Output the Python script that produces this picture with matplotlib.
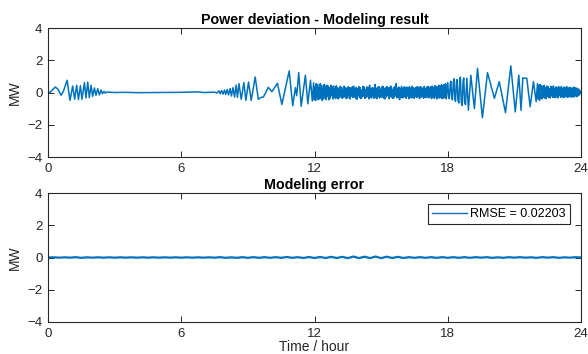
import numpy as np
import matplotlib
matplotlib.use('Agg')
import matplotlib.pyplot as plt

plt.rcParams['font.family'] = ['Liberation Sans', 'DejaVu Sans']

# power deviation, irregular part (hour, MW)
hours_a = [0.0, 0.1, 0.33, 0.45, 0.59, 0.7, 0.86, 0.99, 1.11, 1.2, 1.29, 1.37, 1.46, 1.53,
           1.64, 1.71, 1.79, 1.86, 1.94, 2.01, 2.09, 2.16, 2.24, 2.31, 2.39, 2.45, 2.52,
           2.58, 2.65, 3.0, 3.5, 4.0, 5.0, 6.0, 6.75, 7.0, 7.5,
           7.6, 7.7, 7.75, 7.82, 7.88, 7.95, 8.0, 8.07, 8.13, 8.2, 8.26, 8.33, 8.4, 8.47,
           8.53, 8.6, 8.7, 8.82, 8.91, 9.03, 9.15, 9.33, 9.47, 9.6, 9.7, 9.92, 10.08,
           10.33, 10.53, 10.86, 11.02, 11.14, 11.2, 11.29, 11.4, 11.59, 11.7, 11.82, 11.9]
power_a = [0.0, 0.02, 0.34, 0.2, -0.17, 0.1, 0.76, -0.49, 0.40, -0.42, 0.45, -0.44, 0.42, -0.42,
           0.61, -0.34, 0.65, -0.32, 0.45, -0.24, 0.28, -0.17, 0.24, -0.15, 0.15, -0.08, 0.07,
           -0.04, 0.03, 0.0, 0.01, -0.01, 0.0, 0.01, 0.04, 0.0, 0.02,
           -0.03, 0.1, -0.08, 0.12, -0.1, 0.15, -0.12, 0.18, -0.15, 0.25, -0.22, 0.3, -0.28, 0.45,
           -0.3, 0.55, -0.42, 0.61, -0.49, 0.65, -0.49, 0.96, -0.42, -0.3, -0.28, 0.32, 0.05,
           0.57, -0.74, 1.33, -0.82, 0.3, -0.2, 1.23, -0.85, 1.07, -0.7, 0.76, -0.53]

# dense band 11.96 h .. 17.93 h, step 0.03 h
band1_start, band1_step = 11.96, 0.03
band1 = [0.60, -0.45, 0.35, -0.50, 0.55, -0.30, 0.50, -0.45, 0.30, -0.40,
         0.55, -0.35, 0.45, -0.50, 0.25, -0.40, 0.50, -0.30, 0.40, -0.45,
         0.45, -0.25, 0.40, -0.45, 0.30, -0.35, 0.45, -0.20, 0.35, -0.40,
         0.40, -0.30, 0.20, -0.38, 0.42, -0.28, 0.30, -0.40, 0.25, -0.32,
         0.38, -0.20, 0.32, -0.36, 0.18, -0.30, 0.40, -0.25, 0.30, -0.38,
         0.22, -0.34, 0.36, -0.18, 0.30, -0.40, 0.28, -0.22, 0.34, -0.30,
         0.40, -0.26, 0.20, -0.35, 0.32, -0.42, 0.25, -0.20, 0.36, -0.32,
         0.30, -0.38, 0.15, -0.28, 0.38, -0.22, 0.34, -0.36, 0.20, -0.30,
         0.35, -0.25, 0.30, -0.40, 0.45, -0.30, 0.22, -0.34, 0.30, -0.20,
         0.28, -0.36, 0.50, -0.30, 0.25, -0.38, 0.32, -0.22, 0.36, -0.34,
         0.20, -0.30, 0.34, -0.26, 0.38, -0.35, 0.22, -0.40, 0.30, -0.28,
         0.36, -0.20, 0.28, -0.38, 0.32, -0.24, 0.40, -0.30, 0.18, -0.36,
         0.30, -0.32, 0.36, -0.22, 0.55, -0.34, 0.26, -0.30, 0.34, -0.45,
         0.25, -0.28, 0.38, -0.34, 0.20, -0.30, 0.35, -0.26, 0.30, -0.36,
         0.34, -0.22, 0.28, -0.38, 0.36, -0.30, 0.22, -0.34, 0.38, -0.28,
         0.30, -0.36, 0.20, -0.26, 0.34, -0.32, 0.36, -0.22, 0.28, -0.38,
         0.36, -0.30, 0.32, -0.24, 0.22, -0.36, 0.38, -0.30, 0.26, -0.32,
         0.34, -0.28, 0.38, -0.34, 0.30, -0.26, 0.36, -0.38, 0.40, -0.30,
         0.32, -0.36, 0.42, -0.28, 0.38, -0.40, 0.35, -0.32, 0.45, -0.34,
         0.40, -0.30, 0.48, -0.38, 0.42, -0.35, 0.50, -0.32, 0.55, -0.40]

hours_b = [18.0, 18.04, 18.07, 18.11, 18.14, 18.18, 18.21, 18.25, 18.28, 18.32, 18.35,
           18.39, 18.42, 18.46, 18.5, 18.54, 18.57, 18.61, 18.65, 18.69, 18.72, 18.76,
           18.8, 18.86, 18.93, 19.04, 19.2, 19.34, 19.56, 19.79, 20.1, 20.32,
           20.6, 20.84, 21.04, 21.2, 21.3, 21.38, 21.56, 21.71, 21.86, 21.98]
power_b = [0.62, -0.3, -0.38, 0.5, 0.7, -0.35, -0.45, 0.6, 0.85, -0.4, -0.55,
           0.65, 0.8, -0.5, -0.65, 0.75, 0.95, -0.6, -0.8, 0.7, 0.9, -0.6,
           -0.75, 0.88, -1.1, 1.07, -1.0, 1.5, -1.56, 1.23, -0.36, 0.67,
           -1.25, 1.65, -1.2, 1.07, -1.1, 0.9, 0.88, -0.88, 0.67, -0.57]

# dense band 22.04 h .. 23.99 h, step 0.03 h
band2_start, band2_step = 22.04, 0.03
band2 = [0.55, -0.40, 0.45, -0.48, 0.50, -0.35, 0.42, -0.40, 0.38, -0.30,
         0.45, -0.35, 0.30, -0.38, 0.40, -0.25, 0.36, -0.32, 0.25, -0.34,
         0.38, -0.22, 0.32, -0.30, 0.40, -0.28, 0.22, -0.32, 0.35, -0.26,
         0.30, -0.34, 0.36, -0.20, 0.28, -0.30, 0.38, -0.26, 0.24, -0.32,
         0.34, -0.28, 0.30, -0.22, 0.36, -0.30, 0.26, -0.28, 0.32, -0.24,
         0.30, -0.30, 0.22, -0.26, 0.34, -0.28, 0.30, -0.22, 0.28, -0.26,
         0.25, -0.20, 0.20, -0.15, 0.10, -0.03]

# modelling error, every 0.25 h
err_step = 0.25
err = [0.00, 0.01, -0.01, 0.01, -0.01, 0.02, -0.02, 0.01, -0.01, 0.01,
       -0.01, 0.01, -0.01, 0.01, -0.01, 0.01, -0.01, 0.01, -0.01, 0.01,
       -0.01, 0.01, -0.01, 0.01, -0.01, 0.01, -0.01, 0.01, -0.01, 0.01,
       -0.01, 0.02, -0.02, 0.01, -0.02, 0.02, -0.02, 0.02, -0.02, 0.02,
       -0.02, 0.02, -0.02, 0.03, -0.02, 0.02, -0.03, 0.03, -0.03, 0.03,
       -0.03, 0.04, -0.03, 0.04, -0.04, 0.06, -0.04, 0.05, -0.04, 0.06,
       -0.04, 0.05, -0.03, 0.04, -0.03, 0.02, -0.02, 0.02, -0.02, 0.02,
       -0.02, 0.02, -0.02, 0.02, -0.02, 0.02, -0.02, 0.02, -0.01, 0.02,
       -0.02, 0.01, -0.02, 0.02, -0.01, 0.02, -0.01, 0.01, -0.02, 0.02,
       -0.01, 0.02, -0.02, 0.01, -0.01, 0.02, 0.00]
rmse_label = 'RMSE = 0.02203'

xticks = [0, 6, 12, 18, 24]
yticks = [-4, -2, 0, 2, 4]

t_band1 = band1_start + band1_step * np.arange(len(band1))
t_band2 = band2_start + band2_step * np.arange(len(band2))
t_power = np.concatenate([hours_a, t_band1, hours_b, t_band2])
power = np.concatenate([power_a, band1, power_b, band2])
t_err = err_step * np.arange(len(err))

blue = (0, 0.447, 0.741)
dark = (0.15, 0.15, 0.15)

fig = plt.figure(figsize=(5.88, 3.54), dpi=100)
ax1 = fig.add_axes([48/588, 1 - 157/354, 533/588, 129/354])
ax2 = fig.add_axes([48/588, 1 - 322/354, 533/588, 129/354])

ax1.plot(t_power, power, color=blue, lw=1.1)
ax2.plot(t_err, err, color=blue, lw=1.6, label=rmse_label)

for ax in (ax1, ax2):
    ax.set_xlim(0, 24)
    ax.set_ylim(-4, 4)
    ax.set_xticks(xticks)
    ax.set_yticks(yticks)
    ax.set_ylabel('MW', fontsize=10, color=dark, labelpad=4)
    ax.tick_params(direction='in', length=4, width=0.7, top=True, right=True,
                   labelsize=9.5, colors=dark, pad=4)
    for s in ax.spines.values():
        s.set_color(dark)
        s.set_linewidth(0.8)

ax1.set_title('Power deviation - Modeling result', fontsize=10.3, fontweight='bold', pad=3)
ax2.set_title('Modeling error', fontsize=10.3, fontweight='bold', pad=3)
ax2.set_xlabel('Time / hour', fontsize=10, color=dark, labelpad=0)

leg = ax2.legend(loc='upper right', fontsize=9, handlelength=2.8, fancybox=False,
                 framealpha=1, edgecolor=dark, borderpad=0.3, handletextpad=0.3,
                 borderaxespad=0.9)
leg.get_frame().set_linewidth(0.8)
leg.get_lines()[0].set_linewidth(1.0)

fig.savefig('out.png', dpi=100)
